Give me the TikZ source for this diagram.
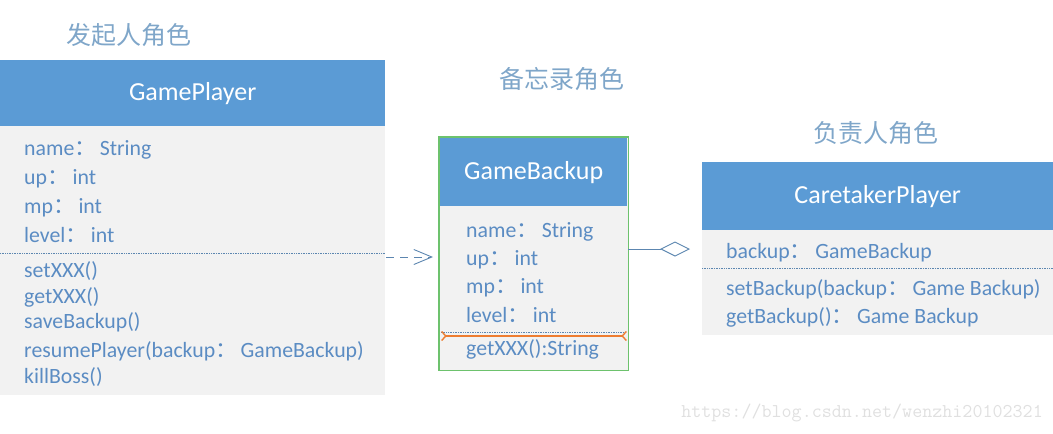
\documentclass[tikz,border=0pt]{standalone}
\usepackage{fontspec}
\setmainfont{Carlito}
\newfontfamily\cjk{Noto Sans CJK SC}
\usetikzlibrary{arrows.meta,positioning}

\definecolor{headblue}{HTML}{5B9BD5}
\definecolor{bodygray}{HTML}{F2F2F2}
\definecolor{txtblue}{HTML}{5B8CC3}
\definecolor{roleblue}{HTML}{7FA6C9}
\definecolor{boxgreen}{HTML}{6DC26D}
\definecolor{markorange}{HTML}{ED7D31}
\definecolor{linkblue}{HTML}{5C86B0}

% full-width colon as printed
\newcommand{\fc}{{\cjk ：}\,}

\begin{document}
\begin{tikzpicture}[x=1pt,y=-1pt,
  head/.style={fill=headblue,text=white,font=\fontsize{26}{30}\selectfont,inner sep=0pt,anchor=north west},
  panel/.style={fill=bodygray,inner sep=0pt,anchor=north west},
  attr/.style={text=txtblue,font=\fontsize{21.8}{26}\selectfont,inner sep=0pt,anchor=base west},
  role/.style={text=roleblue,font=\cjk\fontsize{25}{30}\selectfont,inner sep=0pt},
  sep/.style={densely dotted,draw=linkblue,line width=0.7pt}]

\useasboundingbox (0,0) rectangle (1053,434);

% originator
\node[role] (gprole) at (129,35) {发起人角色};
\node[head,minimum width=385pt,minimum height=66pt] (gp) at (0,60) {GamePlayer};
\node[panel,minimum width=385pt,minimum height=269pt] (gpbody) at (0,126) {};
\node[attr] (gpname) at (24,155) {name\fc String};
\node[attr] (gpup) at (24,184) {up\fc int};
\node[attr] (gpmp) at (24,213) {mp\fc int};
\node[attr] (gplevel) at (24,242) {level\fc int};
\draw[sep] (gpbody.west |- 0,253) -- (gpbody.east |- 0,253);
\node[attr] (gpset) at (24,277) {setXXX()};
\node[attr] (gpget) at (24,303) {getXXX()};
\node[attr] (gpsave) at (24,328) {saveBackup()};
\node[attr] (gpresume) at (24,357) {resumePlayer(backup\fc GameBackup)};
\node[attr] (gpkill) at (24,383) {killBoss()};

% memento
\node[role] (gbrole) at (562,79) {备忘录角色};
\node[panel,minimum width=189pt,minimum height=233pt] (gb) at (439,137) {};
\node[head,minimum width=187pt,minimum height=68pt] (gbhead) at (440,138) {GameBackup};
\draw[boxgreen,line width=1.2pt] (gb.north west) rectangle (gb.south east);
\node[attr] (gbname) at (466,237) {name\fc String};
\node[attr] (gbup) at (466,265) {up\fc int};
\node[attr] (gbmp) at (466,293) {mp\fc int};
\node[attr] (gblevel) at (466,322) {level\fc int};
\draw[sep] (441,332) -- (626,332);
\draw[markorange,line width=1.4pt,{Straight Barb[reversed,length=4pt,width=9pt]}-{Straight Barb[reversed,length=4pt,width=9pt]}] (441,336) -- (627,336);
\node[attr] (gbget) at (466,355) {getXXX():String};

% caretaker
\node[role] (ctrole) at (876,133) {负责人角色};
\node[head,minimum width=351pt,minimum height=68pt] (ct) at (702,162) {CaretakerPlayer};
\node[panel,minimum width=351pt,minimum height=105pt] (ctbody) at (702,230) {};
\node[attr] (ctbackup) at (726,258) {backup\fc GameBackup};
\draw[sep] (ctbody.west |- 0,268) -- (ctbody.east |- 0,268);
\node[attr] (ctset) at (726,295) {setBackup(backup\fc Game Backup)};
\node[attr] (ctget) at (726,323) {getBackup()\fc Game Backup};

% relations
\coordinate (depstart) at (386,257);
\draw[linkblue,line width=0.9pt,dash pattern=on 8pt off 6pt,-{Straight Barb[length=18pt,width=15pt]},shorten >=6pt] (depstart) -- (gb.west |- depstart);
\coordinate (aggend) at (690,249);
\draw[linkblue,line width=0.9pt,-{Diamond[open,fill=white,length=30pt,width=15pt]}] (gb.east |- aggend) -- (aggend);

\node[text=black!12,font=\ttfamily\fontsize{19.5}{22}\selectfont,anchor=east,inner sep=0pt] (mark) at (1043,413) {https://blog.csdn.net/wenzhi20102321};

\end{tikzpicture}
\end{document}
